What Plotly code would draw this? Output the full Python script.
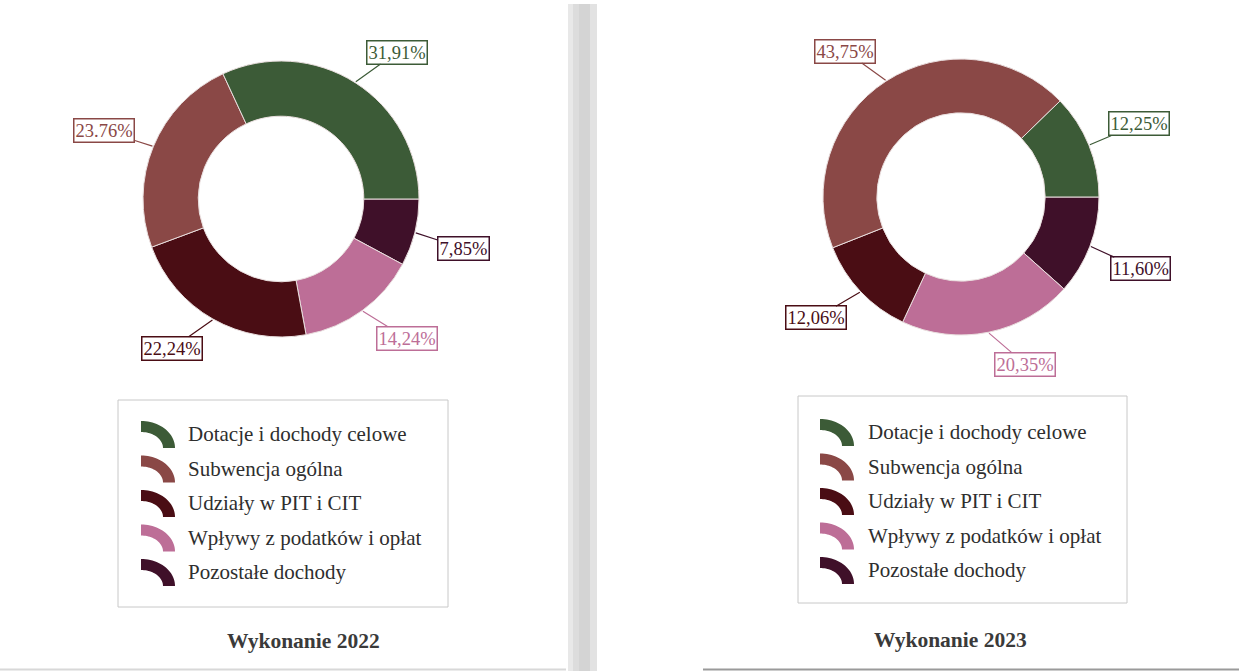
import numpy as np
import plotly.graph_objects as go

W, H = 1239, 671

# ---- data ----
categories = ["Dotacje i dochody celowe", "Subwencja ogólna", "Udziały w PIT i CIT",
              "Wpływy z podatków i opłat", "Pozostałe dochody"]
values_2022 = [31.91, 23.76, 22.24, 14.24, 7.85]
values_2023 = [12.25, 43.75, 12.06, 20.35, 11.60]
labels_2022 = ["31,91%", "23.76%", "22,24%", "14,24%", "7,85%"]
labels_2023 = ["12,25%", "43,75%", "12,06%", "20,35%", "11,60%"]
titles = ["Wykonanie 2022", "Wykonanie 2023"]

colors = ["#3c5b37", "#8a4846", "#4a0d14", "#bd6e97", "#3f1029"]

# ---- layout of the two panels (pixels) ----
panels = [
    dict(values=values_2022, labels=labels_2022, title=titles[0],
         cx=281, cy=199, r=138, hole=0.60,
         nudge=[-5.7, 1.3, -6.5, 6.0, -1.0], lr=[187, 190, 185, 188, 189],
         box=(118, 400, 448, 607), icon_x=141, text_x=186, row0=434, title_xy=(303, 641)),
    dict(values=values_2023, labels=labels_2023, title=titles[1],
         cx=961, cy=197, r=138, hole=0.61,
         nudge=[0.3, 5.6, -3.5, 9.4, -1.0], lr=[192, 186, 189, 179, 193],
         box=(798, 396, 1127, 603), icon_x=820, text_x=866, row0=432, title_xy=(950, 640)),
]
row_step = 34.5

fig = go.Figure()
shapes = []
annotations = []

# page gutter and page edges
for x0, x1, c in [(568, 573, "#e8e8e8"), (573, 579, "#dcdcdc"), (579, 590, "#d4d4d4"),
                  (590, 597, "#e2e2e2")]:
    shapes.append(dict(type="rect", x0=x0, x1=x1, y0=4, y1=H, fillcolor=c,
                       line=dict(width=0), layer="below"))
shapes.append(dict(type="line", x0=0, x1=566, y0=669.5, y1=669.5,
                   line=dict(color="#d8d8d8", width=2), layer="below"))
shapes.append(dict(type="line", x0=703, x1=W, y0=669.5, y1=669.5,
                   line=dict(color="#9a9a9a", width=2), layer="below"))

serif = "Liberation Serif, Times New Roman, serif"

for p in panels:
    cx, cy, r = p["cx"], p["cy"], p["r"]
    # slices run counterclockwise from 3 o'clock in category order,
    # i.e. clockwise from 3 o'clock in reversed order
    fig.add_trace(go.Pie(
        values=p["values"][::-1], labels=categories[::-1], sort=False,
        direction="clockwise", rotation=90, hole=p["hole"],
        marker=dict(colors=colors[::-1], line=dict(color="#e9dede", width=1)),
        textinfo="none", hoverinfo="label+percent", showlegend=False,
        domain=dict(x=[(cx - r) / W, (cx + r) / W],
                    y=[1 - (cy + r) / H, 1 - (cy - r) / H]),
    ))

    # boxed percentage labels with leader lines
    total = sum(p["values"])
    start = 0.0
    for i, v in enumerate(p["values"]):
        span = v / total * 360.0
        mid = np.radians(start + span / 2)
        start += span
        px, py = cx + (r + 1) * np.cos(mid), cy - (r + 1) * np.sin(mid)
        ang = mid + np.radians(p["nudge"][i])
        bx, by = cx + p["lr"][i] * np.cos(ang), cy - p["lr"][i] * np.sin(ang)
        annotations.append(dict(
            x=px, y=py, xref="x", yref="y", ax=bx - px, ay=by - py,
            axref="pixel", ayref="pixel", text=p["labels"][i],
            showarrow=True, arrowhead=0, arrowwidth=1.2, arrowcolor=colors[i],
            standoff=0, font=dict(family=serif, size=18.5, color=colors[i]),
            bgcolor="white", bordercolor=colors[i], borderwidth=1.5, borderpad=1,
        ))

    # legend frame
    x0, y0, x1, y1 = p["box"]
    shapes.append(dict(type="rect", x0=x0, y0=y0, x1=x1, y1=y1,
                       line=dict(color="#c8c8c8", width=1), fillcolor="rgba(0,0,0,0)"))

    # legend entries with quarter-ring symbols
    th = np.linspace(np.pi / 2, 0, 24)
    for i, name in enumerate(categories):
        ry = p["row0"] + i * row_step
        ox, oy = p["icon_x"], ry + 14
        outer = [(ox + 34 * np.cos(t), oy - 27 * np.sin(t)) for t in th]
        inner = [(ox + 22 * np.cos(t), oy - 16 * np.sin(t)) for t in th[::-1]]
        pts = outer + inner
        path = "M " + " L ".join(f"{x:.2f},{y:.2f}" for x, y in pts) + " Z"
        shapes.append(dict(type="path", path=path, fillcolor=colors[i],
                           line=dict(width=0)))
        annotations.append(dict(
            x=p["text_x"], y=ry, xref="x", yref="y", text=name, showarrow=False,
            xanchor="left", yanchor="middle",
            font=dict(family=serif, size=21, color="#2e2e2e"),
        ))

    tx, ty = p["title_xy"]
    annotations.append(dict(
        x=tx, y=ty, xref="x", yref="y", text=f"<b>{p['title']}</b>", showarrow=False,
        xanchor="center", yanchor="middle",
        font=dict(family=serif, size=21.5, color="#3a3a3a"),
    ))

fig.update_layout(
    width=W, height=H, margin=dict(l=0, r=0, t=0, b=0),
    paper_bgcolor="white", plot_bgcolor="white",
    xaxis=dict(range=[0, W], visible=False, fixedrange=True),
    yaxis=dict(range=[H, 0], visible=False, fixedrange=True),
    shapes=shapes, annotations=annotations, showlegend=False,
)

fig.write_html("out.html")
